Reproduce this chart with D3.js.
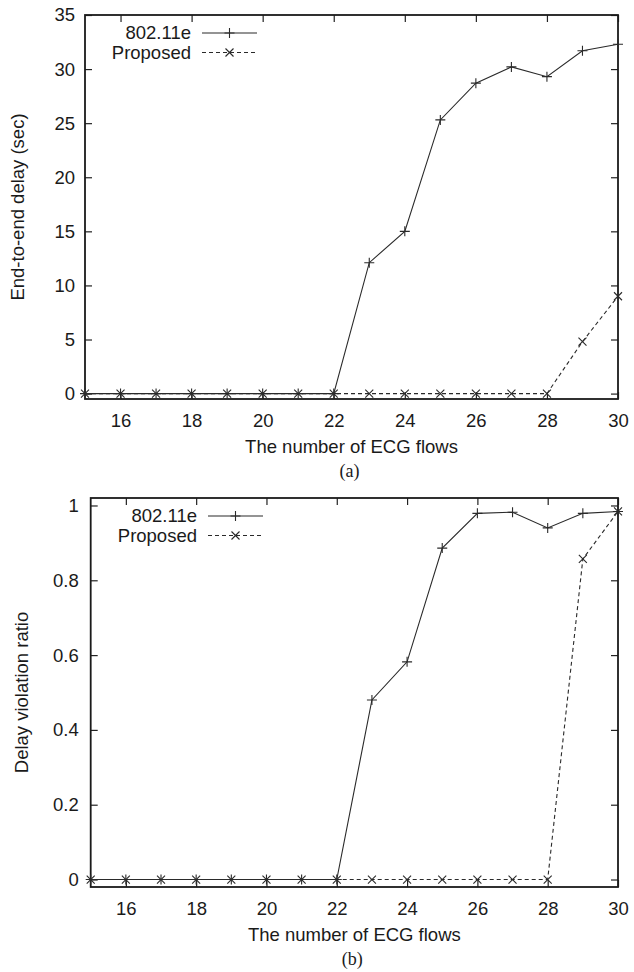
<!DOCTYPE html>
<html>
<head>
<meta charset="utf-8">
<script src="https://cdn.jsdelivr.net/npm/d3@7"></script>
<style>
  html, body { margin: 0; padding: 0; background: #fff; }
  svg { display: block; }
  text { font-family: "Liberation Sans", Arial, sans-serif; fill: #1a1a1a; }
</style>
</head>
<body>
<svg id="chart" width="634" height="972"></svg>
<script>
// ---- data ----
const flows = [15, 16, 17, 18, 19, 20, 21, 22, 23, 24, 25, 26, 27, 28, 29, 30];
const seriesNames = ["802.11e", "Proposed"];

const delay80211e  = [0, 0, 0, 0, 0, 0, 0, 0, 12.1, 15.0, 25.3, 28.7, 30.2, 29.3, 31.7, 32.3];
const delayProposed = [0, 0, 0, 0, 0, 0, 0, 0, 0, 0, 0, 0, 0, 0, 4.8, 9.0];

const ratio80211e  = [0, 0, 0, 0, 0, 0, 0, 0, 0.48, 0.582, 0.886, 0.979, 0.982, 0.94, 0.979, 0.984];
const ratioProposed = [0, 0, 0, 0, 0, 0, 0, 0, 0, 0, 0, 0, 0, 0, 0.857, 0.984];

const xTicks = [16, 18, 20, 22, 24, 26, 28, 30];
const yTicksDelay = [0, 5, 10, 15, 20, 25, 30, 35];
const yTicksRatio = [0, 0.2, 0.4, 0.6, 0.8, 1];

const xLabel = "The number of ECG flows";
const yLabelDelay = "End-to-end delay (sec)";
const yLabelRatio = "Delay violation ratio";

// ---- drawing ----
const svg = d3.select("#chart");
const FS = 18.5;
const lineColor = "#2a2a2a";

function panel(cfg) {
  const g = svg.append("g");
  const x = d3.scaleLinear().domain([15, 30]).range([cfg.left, cfg.right]);
  const y = d3.scaleLinear().domain(cfg.yDomain).range([cfg.bottom, cfg.top]);
  const tl = 7;

  // bottom axis (inward ticks)
  const ax = g.append("g").attr("transform", `translate(0,${cfg.bottom})`)
    .call(d3.axisBottom(x).tickValues(xTicks).tickSize(-tl).tickFormat(d3.format("d")));
  ax.select(".domain").remove();
  ax.selectAll("line").attr("stroke", "#222").attr("stroke-width", 1.2);
  ax.selectAll("text").attr("font-size", FS).attr("font-family", "Liberation Sans, Arial, sans-serif").attr("fill", "#1a1a1a")
    .attr("dy", null).attr("y", 28);

  // top mirror ticks
  const axT = g.append("g").attr("transform", `translate(0,${cfg.top})`)
    .call(d3.axisTop(x).tickValues(xTicks).tickSize(-tl).tickFormat(""));
  axT.select(".domain").remove();
  axT.selectAll("line").attr("stroke", "#222").attr("stroke-width", 1.2);

  // left axis
  const ay = g.append("g").attr("transform", `translate(${cfg.left},0)`)
    .call(d3.axisLeft(y).tickValues(cfg.yTicks).tickSize(-tl).tickPadding(cfg.yPad).tickFormat(cfg.fmt));
  ay.select(".domain").remove();
  ay.selectAll("line").attr("stroke", "#222").attr("stroke-width", 1.2);
  ay.selectAll("text").attr("font-size", FS).attr("font-family", "Liberation Sans, Arial, sans-serif").attr("fill", "#1a1a1a");

  // right mirror ticks
  const ayR = g.append("g").attr("transform", `translate(${cfg.right},0)`)
    .call(d3.axisRight(y).tickValues(cfg.yTicks).tickSize(-tl).tickFormat(""));
  ayR.select(".domain").remove();
  ayR.selectAll("line").attr("stroke", "#222").attr("stroke-width", 1.2);

  // frame
  g.append("rect")
    .attr("x", cfg.left).attr("y", cfg.top)
    .attr("width", cfg.right - cfg.left).attr("height", cfg.bottom - cfg.top)
    .attr("fill", "none").attr("stroke", "#1a1a1a").attr("stroke-width", 1.8);

  // series
  const data1 = flows.map((f, i) => [f, cfg.s1[i]]);
  const data2 = flows.map((f, i) => [f, cfg.s2[i]]);
  const line = d3.line().x(d => x(d[0])).y(d => y(d[1]));

  g.append("path").datum(data2).attr("d", line)
    .attr("fill", "none").attr("stroke", lineColor).attr("stroke-width", 1.1)
    .attr("stroke-dasharray", "4,3");
  g.append("path").datum(data1).attr("d", line)
    .attr("fill", "none").attr("stroke", lineColor).attr("stroke-width", 1.1);

  const plus = (sel, cx, cy, r) => sel.append("path")
    .attr("d", `M${cx - r},${cy}H${cx + r}M${cx},${cy - r}V${cy + r}`)
    .attr("stroke", lineColor).attr("stroke-width", 1.1).attr("fill", "none");
  const cross = (sel, cx, cy, r) => sel.append("path")
    .attr("d", `M${cx - r},${cy - r}L${cx + r},${cy + r}M${cx - r},${cy + r}L${cx + r},${cy - r}`)
    .attr("stroke", lineColor).attr("stroke-width", 1.1).attr("fill", "none");

  data1.forEach(d => plus(g, x(d[0]), y(d[1]), 5));
  data2.forEach(d => cross(g, x(d[0]), y(d[1]), 4));

  // legend
  const lg = g.append("g");
  const lx = cfg.legX, ly = cfg.legY;
  [0, 1].forEach(i => {
    const yy = ly + i * 19.5;
    lg.append("text").attr("x", lx).attr("y", yy).attr("dy", "0.35em")
      .attr("text-anchor", "end").attr("font-size", FS).text(seriesNames[i]);
    const l = lg.append("line").attr("x1", lx + 11).attr("x2", lx + 66)
      .attr("y1", yy).attr("y2", yy).attr("stroke", lineColor).attr("stroke-width", 1.1);
    if (i === 1) l.attr("stroke-dasharray", "4,3");
    if (i === 0) plus(lg, lx + 38.5, yy, 5); else cross(lg, lx + 38.5, yy, 4);
  });

  // axis labels
  g.append("text").attr("x", (cfg.left + cfg.right) / 2).attr("y", cfg.bottom + 54)
    .attr("text-anchor", "middle").attr("font-size", FS).text(xLabel);
  g.append("text").attr("x", (cfg.left + cfg.right) / 2 - 2).attr("y", cfg.bottom + 78)
    .attr("text-anchor", "middle").attr("font-size", 18)
    .style("font-family", "'Liberation Serif', 'Times New Roman', serif").text(cfg.caption);
  g.append("text")
    .attr("transform", `translate(${cfg.yLabX},${(cfg.top + cfg.bottom) / 2}) rotate(-90)`)
    .attr("text-anchor", "middle").attr("font-size", FS).text(cfg.yLabel);
}

panel({
  left: 85, right: 618, top: 15, bottom: 399,
  yDomain: [-0.5, 35], yTicks: yTicksDelay, fmt: d3.format("d"), yPad: 10,
  s1: delay80211e, s2: delayProposed,
  legX: 191, legY: 33, caption: "(a)", yLabel: yLabelDelay, yLabX: 24
});

panel({
  left: 90.7, right: 618, top: 498, bottom: 887,
  yDomain: [-0.02, 1.02], yTicks: yTicksRatio, fmt: d => d === 0 || d === 1 ? String(d) : d3.format(".1f")(d), yPad: 12,
  s1: ratio80211e, s2: ratioProposed,
  legX: 197, legY: 516, caption: "(b)", yLabel: yLabelRatio, yLabX: 28
});
</script>
</body>
</html>
